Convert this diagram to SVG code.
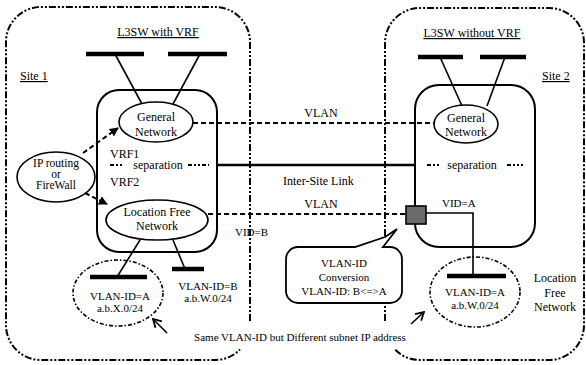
<svg xmlns="http://www.w3.org/2000/svg" width="586" height="365" viewBox="0 0 586 365" font-family="'Liberation Serif', 'DejaVu Serif', serif">
  <style>
    text { font-family: 'Liberation Serif', 'DejaVu Serif', serif; font-size: 12px; fill: #000; }
    .c { text-anchor: middle; }
    .s11 { font-size: 11px; }
    .u { text-decoration: underline; }
    .site { fill: none; stroke: #000; stroke-width: 2; stroke-dasharray: 7 2 2 2 2 2; }
    .box { fill: none; stroke: #000; stroke-width: 2; }
    .ell { fill: #fff; stroke: #000; stroke-width: 1.6; }
    .dd { fill: none; stroke: #000; stroke-width: 1.6; stroke-dasharray: 4 2 1.5 2; }
    .bar { stroke: #000; stroke-width: 4.5; }
    .ln { stroke: #000; stroke-width: 1.6; fill: none; }
    .dash { stroke: #000; stroke-width: 2; stroke-dasharray: 5 3; fill: none; }
    .sep { stroke: #000; stroke-width: 1.8; stroke-dasharray: 4 2 2 2 2 2; }
  </style>
  <defs>
    <marker id="tri" viewBox="0 0 10 10" refX="9" refY="5" markerWidth="9" markerHeight="9" markerUnits="userSpaceOnUse" orient="auto">
      <path d="M0,0 L10,5 L0,10 z" fill="#000"/>
    </marker>
    <marker id="open" viewBox="0 0 10 10" refX="9" refY="5" markerWidth="10" markerHeight="10" markerUnits="userSpaceOnUse" orient="auto">
      <path d="M1,0.5 L9,5 L1,9.5" fill="none" stroke="#000" stroke-width="1.8"/>
    </marker>
  </defs>

  <!-- site boundaries -->
  <g id="site1">
    <path class="site" d="M250,321 L250,42 A35,35 0 0 0 215,7 L41,7 A35,35 0 0 0 6,42 L6,325 A35,35 0 0 0 41,360 L215,360 A35,35 0 0 0 240,349.5"/>
    <text x="20" y="80" class="u">Site 1</text>
    <text x="158" y="36" class="c u">L3SW with VRF</text>
  </g>
  <g id="site2">
    <path class="site" d="M385,321 L385,43 A35,35 0 0 1 420,8 L549,8 A35,35 0 0 1 584,43 L584,325 A35,35 0 0 1 549,360 L420,360 A35,35 0 0 1 395,349.5"/>
    <text x="542" y="80" class="u">Site 2</text>
    <text x="472" y="37" class="c u">L3SW without VRF</text>
  </g>

  <!-- connectors -->
  <g id="connectors">
    <line class="ln" x1="115" y1="54" x2="142" y2="104"/>
    <line class="ln" x1="200" y1="54" x2="173" y2="104"/>
    <line class="ln" x1="140" y1="240" x2="117" y2="277"/>
    <line class="ln" x1="173" y1="240" x2="185" y2="269"/>
    <line class="ln" x1="440" y1="57" x2="462" y2="106"/>
    <line class="ln" x1="505" y1="57" x2="487" y2="106"/>
    <line class="dash" x1="193" y1="123" x2="435" y2="123"/>
    <line stroke="#000" stroke-width="2.6" x1="217" y1="165" x2="415" y2="165"/>
    <line class="dash" x1="208" y1="214" x2="406" y2="214"/>
    <polyline class="ln" points="426,213 473,213 473,276"/>
    <line class="dash" x1="83" y1="153" x2="118" y2="128" marker-end="url(#tri)"/>
    <line class="dash" x1="85" y1="193" x2="107" y2="204" marker-end="url(#tri)"/>
    <line class="ln" x1="167" y1="333" x2="153" y2="319" marker-end="url(#open)"/>
    <line class="ln" x1="411" y1="324" x2="424" y2="312" marker-end="url(#open)"/>
  </g>

  <!-- labels on links -->
  <g id="link-labels">
    <text x="321" y="117" class="c">VLAN</text>
    <text x="283" y="185">Inter-Site Link</text>
    <text x="321" y="208" class="c">VLAN</text>
    <text x="235" y="236" class="s11">VID=B</text>
    <text x="442" y="207" class="s11">VID=A</text>
    <text x="300" y="341" class="c s11">Same VLAN-ID but Different subnet IP address</text>
  </g>

  <!-- site 1 switch -->
  <g id="vrf-switch">
    <line class="bar" x1="86" y1="54" x2="144" y2="54"/>
    <line class="bar" x1="168" y1="54" x2="227" y2="54"/>
    <rect class="box" x="97" y="90" width="120" height="162" rx="22"/>
    <text x="110" y="158">VRF1</text>
    <text x="110" y="186">VRF2</text>
    <line class="sep" x1="110" y1="165" x2="124" y2="165"/>
    <line class="sep" x1="188" y1="165" x2="209" y2="165"/>
    <text x="158" y="169" class="c">separation</text>
  </g>
  <g id="general1">
    <ellipse class="ell" cx="156" cy="122" rx="37" ry="20"/>
    <text x="156" y="121" class="c">General</text>
    <text x="156" y="136" class="c">Network</text>
  </g>
  <g id="locfree1">
    <ellipse class="ell" cx="157" cy="220" rx="51" ry="20"/>
    <text x="157" y="216" class="c">Location Free</text>
    <text x="157" y="230" class="c">Network</text>
  </g>
  <g id="iprouting">
    <ellipse class="ell" cx="56" cy="177" rx="39" ry="25"/>
    <text x="56" y="167" class="c" font-size="11.5" style="font-size:11.5px">IP routing</text>
    <text x="56" y="178" class="c" style="font-size:11.5px">or</text>
    <text x="56" y="189" class="c" style="font-size:11.5px">FireWall</text>
  </g>
  <g id="segA1">
    <ellipse class="dd" cx="118" cy="293" rx="45" ry="33"/>
    <line class="bar" x1="90" y1="277" x2="147" y2="277"/>
    <text x="120" y="300" class="c s11">VLAN-ID=A</text>
    <text x="120" y="312" class="c s11">a.b.X.0/24</text>
  </g>
  <g id="segB1">
    <line class="bar" x1="172" y1="269" x2="204" y2="269"/>
    <text x="208" y="290" class="c s11">VLAN-ID=B</text>
    <text x="208" y="302" class="c s11">a.b.W.0/24</text>
  </g>

  <!-- site 2 switch -->
  <g id="plain-switch">
    <line class="bar" x1="418" y1="57" x2="463" y2="57"/>
    <line class="bar" x1="480" y1="57" x2="526" y2="57"/>
    <rect class="box" x="415" y="85" width="120" height="162" rx="24"/>
    <line class="sep" x1="427" y1="165" x2="440" y2="165"/>
    <line class="sep" x1="507" y1="165" x2="523" y2="165"/>
    <text x="472" y="169" class="c">separation</text>
  </g>
  <g id="general2">
    <ellipse class="ell" cx="466" cy="124" rx="32" ry="19"/>
    <text x="466" y="122" class="c">General</text>
    <text x="466" y="136" class="c">Network</text>
  </g>
  <g id="port">
    <rect x="406" y="206" width="20" height="18" fill="#6b6b6b" stroke="#000" stroke-width="1.6"/>
  </g>
  <g id="segA2">
    <ellipse class="dd" cx="475" cy="292" rx="45" ry="35"/>
    <line class="bar" x1="447" y1="276" x2="506" y2="276"/>
    <text x="475" y="296" class="c s11">VLAN-ID=A</text>
    <text x="475" y="309" class="c s11">a.b.W.0/24</text>
    <text x="555" y="282" class="c">Location</text>
    <text x="555" y="297" class="c">Free</text>
    <text x="555" y="311" class="c">Network</text>
  </g>

  <!-- conversion callout -->
  <g id="callout">
    <path d="M298,247 L355,247 L385,237 L397,229 L383,247 L390,247 A12,12 0 0 1 402,259 L402,291 A12,12 0 0 1 390,303 L298,303 A12,12 0 0 1 286,291 L286,259 A12,12 0 0 1 298,247 Z" fill="#fff" stroke="#000" stroke-width="1.8" stroke-linejoin="miter"/>
    <text x="344" y="267" class="c s11">VLAN-ID</text>
    <text x="344" y="281" class="c s11">Conversion</text>
    <text x="344" y="295" class="c s11">VLAN-ID: B&lt;=&gt;A</text>
  </g>
</svg>
